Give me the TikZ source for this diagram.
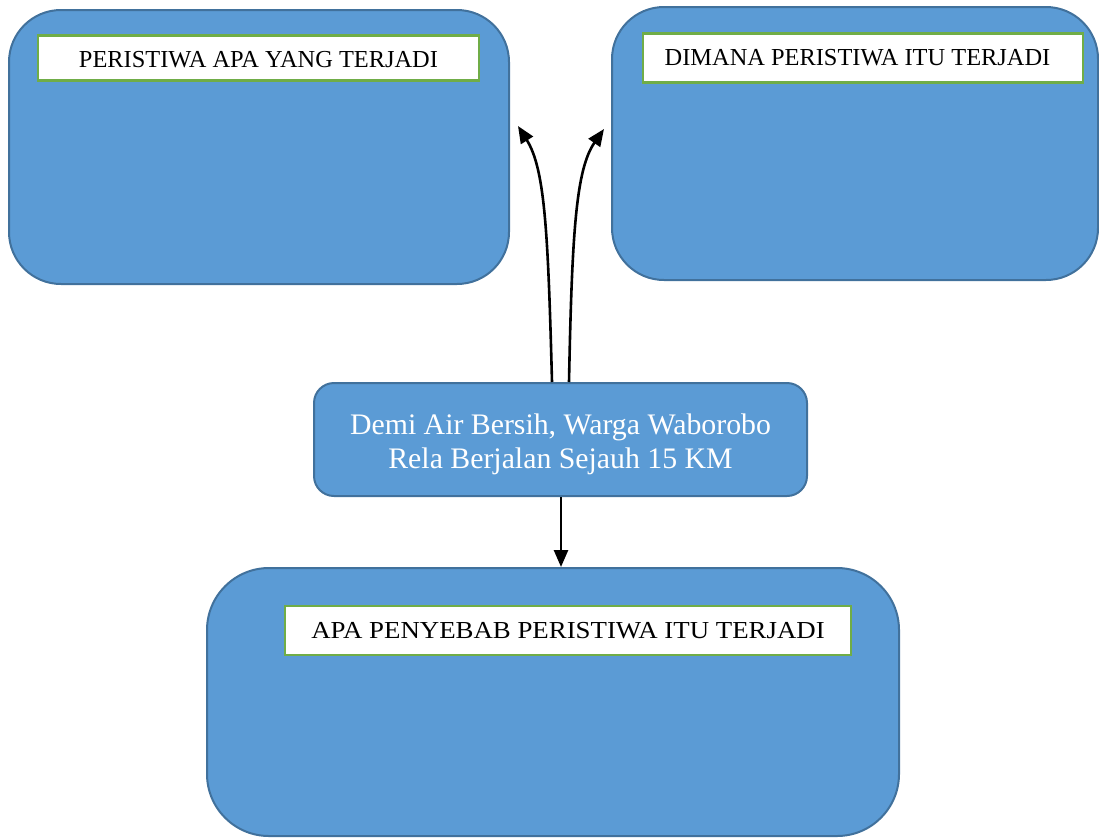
\documentclass[tikz,border=0pt]{standalone}
\usepackage{fontspec}
\setmainfont{Liberation Serif}
\usetikzlibrary{arrows.meta}
\definecolor{boxfill}{HTML}{5B9BD5}
\definecolor{boxline}{HTML}{41719C}
\definecolor{labline}{HTML}{70AD47}
\begin{document}
\begin{tikzpicture}[x=1pt,y=-1pt,
  bigbox/.style={draw=boxline, fill=boxfill, line width=2pt, inner sep=0pt},
  labelbox/.style={draw=labline, fill=white, line width=2.2pt, inner sep=0pt, font=\fontsize{24.4}{29}\selectfont, text=black},
  arr/.style={line width=2.6pt, -{Triangle[length=17pt,width=14pt]}}]
\useasboundingbox (0,0) rectangle (1099,839);
% top-left box
\node[bigbox, rounded corners=52pt, minimum width=500pt, minimum height=274pt] (A) at (259,147) {};
\node[labelbox, minimum width=441pt, minimum height=45pt] (Al) at (258.5,58) {\raisebox{-2pt}[\height][\depth]{PERISTIWA APA YANG TERJADI}};
% top-right box
\node[bigbox, rounded corners=52pt, minimum width=486pt, minimum height=273pt] (B) at (855,143.5) {};
\node[labelbox, minimum width=440pt, minimum height=49pt] (Bl) at (863,58) {\hspace*{-11pt}DIMANA PERISTIWA ITU TERJADI};
% center box
\node[bigbox, rounded corners=20pt, minimum width=493pt, minimum height=113pt, text=white, font=\fontsize{29.8}{34}\selectfont] (C) at (560.5,439.5) {\raisebox{-5pt}[\height][\depth]{\begin{tabular}{@{}c@{}}Demi Air Bersih, Warga Waborobo\\Rela Berjalan Sejauh 15 KM\end{tabular}}};
% bottom box
\node[bigbox, rounded corners=62pt, minimum width=692pt, minimum height=268pt] (D) at (553,702) {};
\node[labelbox, minimum width=566pt, minimum height=49pt] (Dl) at (568,630.5) {\scalebox{1.1}[1]{APA PENYEBAB PERISTIWA ITU TERJADI}};
% connectors
\coordinate (tA) at (518,126);
\coordinate (tB) at (604,129);
\draw[arr] ([xshift=-8.5pt]C.north) .. controls +(-4,-150) and +(27,43) .. (tA);
\draw[arr] ([xshift=8.5pt]C.north) .. controls +(3,-150) and +(-28,40) .. (tB);
\draw[arr] (C.south -| 561,0) -- (D.north -| 561,0);
\end{tikzpicture}
\end{document}
